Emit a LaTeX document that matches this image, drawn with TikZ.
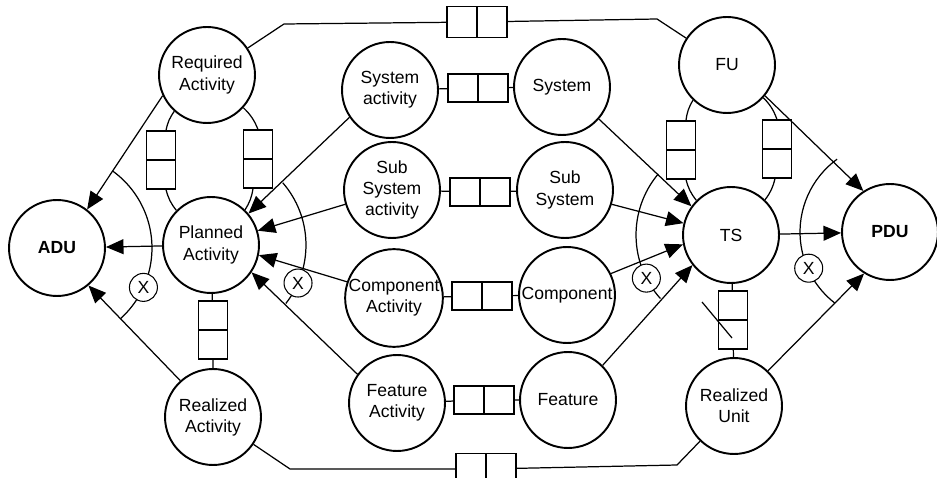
\documentclass[tikz,border=0pt]{standalone}
\usepackage{fontspec}
\setmainfont{Liberation Sans}
\usetikzlibrary{arrows.meta}

\begin{document}
\begin{tikzpicture}[
  x=0.02cm, y=0.02cm, line width=0.7pt,
  >={Triangle[length=10pt,width=8.5pt]},
  every node/.style={font=\fontsize{10}{12}\selectfont},
  roundnode/.style={circle, draw=black, line width=1.1pt, minimum size=1.92cm, inner sep=0pt, align=center},
  xnode/.style={circle, draw=black, fill=white, line width=0.6pt, minimum size=0.56cm, inner sep=0pt},
  hstore/.style={rectangle, draw=black, line width=0.6pt, minimum width=1.2cm, minimum height=0.56cm, inner sep=0pt,
    path picture={\draw[line width=0.6pt] (path picture bounding box.north) -- (path picture bounding box.south);}},
  vstore/.style={rectangle, draw=black, line width=0.6pt, minimum width=0.58cm, minimum height=1.16cm, inner sep=0pt,
    path picture={\draw[line width=0.6pt] (path picture bounding box.west) -- (path picture bounding box.east);}},
]
\useasboundingbox (0,0) rectangle (937,477);

\node[roundnode] (ADU) at (57,229) {\textbf{ADU}};
\node[roundnode] (req) at (207,402) {Required\\Activity};
\node[roundnode] (plan) at (211,232) {Planned\\Activity};
\node[roundnode] (real) at (213,60) {Realized\\Activity};

\node[roundnode] (sysA) at (390,387) {System\\activity};
\node[roundnode] (subA) at (392,287) {Sub\\System\\activity};
\node[roundnode] (compA) at (394,179) {Component\\Activity};
\node[roundnode] (featA) at (397,74) {Feature\\Activity};

\node[roundnode] (sys) at (562,390) {System};
\node[roundnode] (sub) at (565,287) {Sub\\System};
\node[roundnode] (comp) at (567,182) {Component};
\node[roundnode] (feat) at (568,77) {Feature};

\node[roundnode] (FU) at (727,412) {FU};
\node[roundnode] (TS) at (731,242) {TS};
\node[roundnode] (RU) at (734,71) {Realized\\Unit};
\node[roundnode] (PDU) at (890,245) {\textbf{PDU}};

\node[hstore, minimum height=0.62cm] (stTop) at (477,455) {};
\node[hstore, minimum height=0.62cm] (stBot) at (486,8) {};
\node[hstore] (st1) at (478,389) {};
\node[hstore] (st2) at (480,285) {};
\node[hstore] (st3) at (482,181) {};
\node[hstore] (st4) at (484,77) {};

\node[vstore] (rpl) at (161,317) {};
\node[vstore] (rpr) at (258,318) {};
\node[vstore] (prs) at (213,147) {};
\node[vstore] (ftl) at (681,327) {};
\node[vstore] (ftr) at (777,328) {};
\node[vstore] (tsru) at (733,157) {};

\coordinate (tl) at (284,453);
\coordinate (tr) at (657,458);
\coordinate (bl) at (290,8);
\coordinate (br) at (677,12);

\draw (req) -- (tl) -- (stTop) -- (tr) -- (FU);
\draw (real) -- (bl) -- (stBot) -- (br) -- (RU);

\draw (sysA) -- (st1) -- (sys);
\draw (subA) -- (st2) -- (sub);
\draw (compA) -- (st3) -- (comp);
\draw (featA) -- (st4) -- (feat);

\draw (req.228) to[bend right=12] ([shift={(0.1cm,0)}]rpl.north);
\draw ([shift={(0.1cm,0)}]rpl.south) to[bend right=12] (plan.135);
\draw (req.318) to[bend left=12] (rpr.north);
\draw ([shift={(-0.1cm,0)}]rpr.south) to[bend left=12] (plan.46);
\draw (plan) -- (prs) -- (real);

\draw (FU.226) to[bend right=12] ([shift={(0.1cm,0)}]ftl.north);
\draw ([shift={(0.1cm,0)}]ftl.south) to[bend right=12] (TS.135);
\draw (FU.318) to[bend left=12] (ftr.north);
\draw ([shift={(-0.04cm,0)}]ftr.south) to[bend left=12] (TS.46);
\draw (TS) -- (tsru) -- (RU);
\draw ([shift={(-0.62cm,0.36cm)}]tsru.center) -- ([shift={(-0.02cm,-0.36cm)}]tsru.center);

\draw[->] (req.205) -- (ADU.52);
\draw[->] (plan) -- (ADU);
\draw[->] (real.132) -- (ADU.310);

\draw[->] (sysA.214) -- (plan.40);
\draw[->] (subA.197) -- (plan.17);
\draw[->] (compA.161) -- (plan.-12);
\draw[->] (featA.144) -- (plan.-34);

\draw[->] (sys.-41) -- (TS.144);
\draw[->] (sub.-17) -- (TS.166);
\draw[->] (comp.26) -- (TS.191);
\draw[->] (feat.45) -- (TS.218);

\draw[->] (FU.-39) -- (PDU.123);
\draw[->] (TS) -- (PDU);
\draw[->] (RU.46) -- (PDU.238);

\draw ([shift={(54:1.9cm)}]ADU.center) arc[start angle=54, end angle=-48, radius=1.9cm];
\draw ([shift={(41:1.9cm)}]plan.center) arc[start angle=41, end angle=-38, radius=1.9cm];
\draw ([shift={(140:1.9cm)}]TS.center) arc[start angle=140, end angle=222, radius=1.9cm];
\draw ([shift={(126:1.8cm)}]PDU.center) arc[start angle=126, end angle=232, radius=1.8cm];

\node[xnode] (xADU) at ([shift={(-24.5:1.9cm)}]ADU.center) {X};
\node[xnode] (xplan) at ([shift={(-23.6:1.9cm)}]plan.center) {X};
\node[xnode] (xTS) at ([shift={(207:1.9cm)}]TS.center) {X};
\node[xnode] (xPDU) at ([shift={(204:1.78cm)}]PDU.center) {X};

\end{tikzpicture}
\end{document}
